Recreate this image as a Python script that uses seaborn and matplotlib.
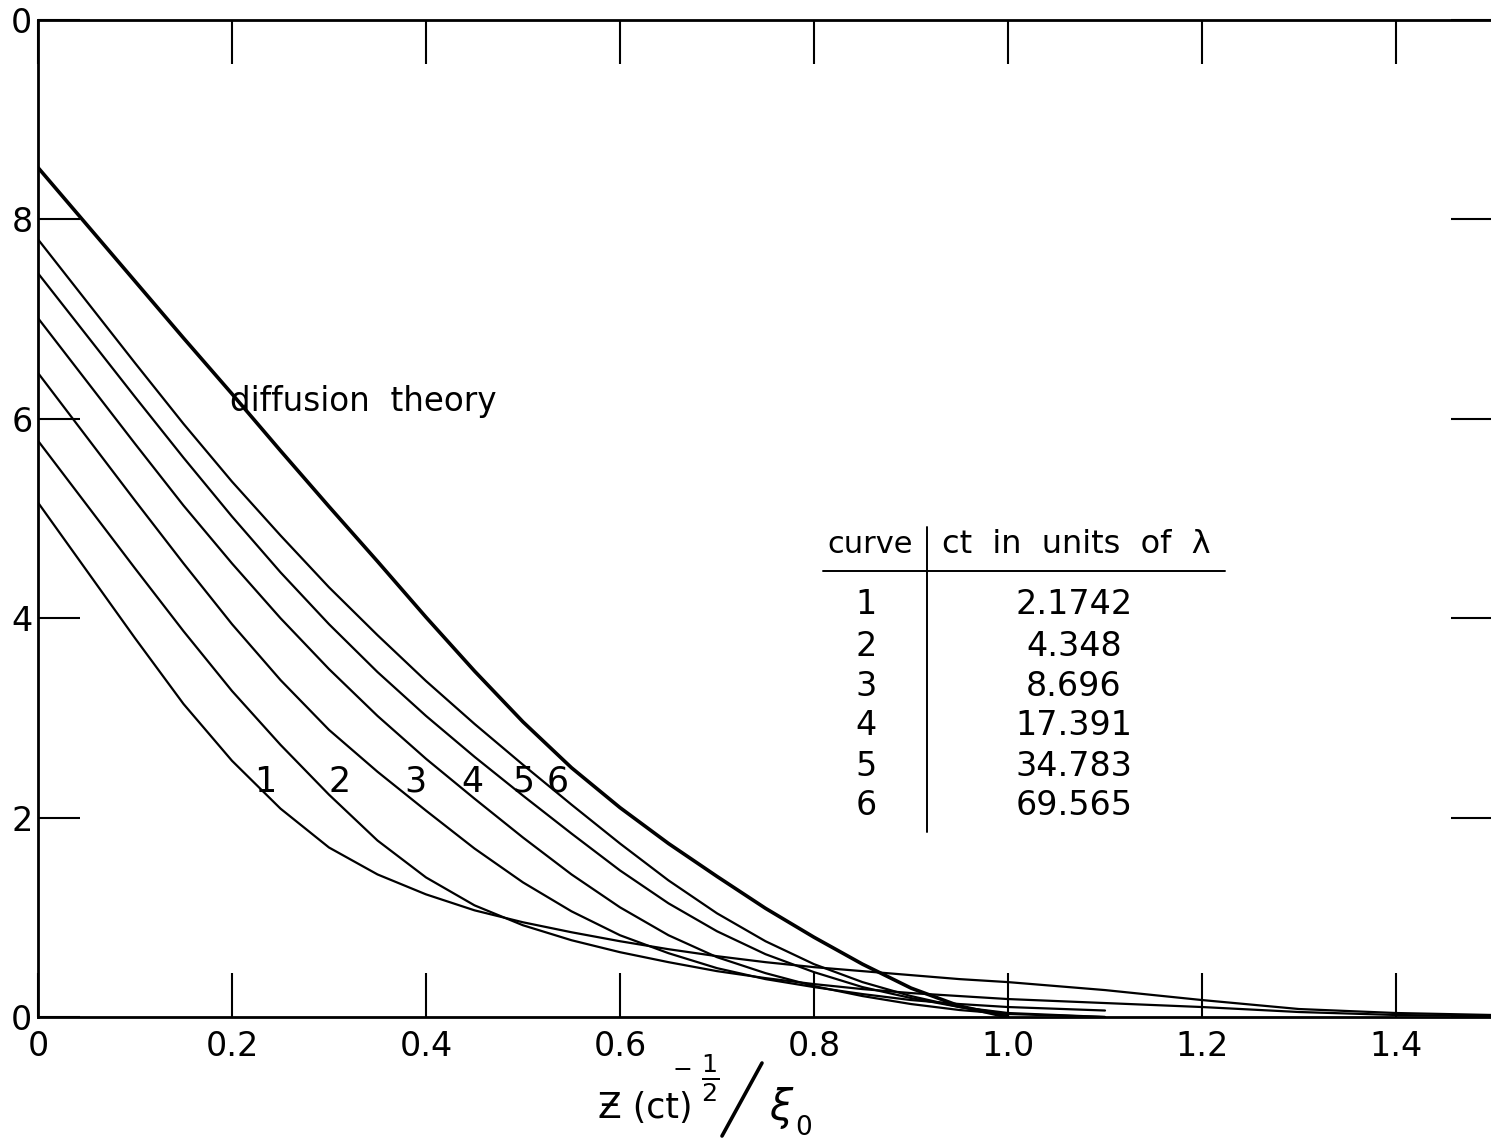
import numpy as np
import pandas as pd
import matplotlib
matplotlib.use("Agg")
import matplotlib.pyplot as plt
from matplotlib.lines import Line2D
import seaborn as sns

# Abscissa: z (ct)^(-1/2) / xi_0
x_grid = [0.00, 0.05, 0.10, 0.15, 0.20, 0.25, 0.30, 0.35, 0.40, 0.45,
          0.50, 0.55, 0.60, 0.65, 0.70, 0.75, 0.80, 0.85, 0.90, 0.95,
          1.00, 1.10, 1.20, 1.30, 1.40, 1.50]

diffusion = [8.52, 7.95, 7.38, 6.81, 6.25, 5.68, 5.12, 4.57, 4.01, 3.47,
             2.96, 2.50, 2.10, 1.74, 1.41, 1.09, 0.80, 0.53, 0.29, 0.11,
             0.00]

curve1 = [5.16, 4.48, 3.80, 3.14, 2.57, 2.09, 1.70, 1.43, 1.23, 1.07,
          0.95, 0.85, 0.76, 0.68, 0.61, 0.55, 0.50, 0.46, 0.42, 0.38,
          0.35, 0.27, 0.17, 0.08, 0.04, 0.02]
curve2 = [5.78, 5.14, 4.50, 3.87, 3.27, 2.73, 2.23, 1.77, 1.40, 1.12,
          0.92, 0.77, 0.65, 0.55, 0.46, 0.39, 0.33, 0.28, 0.24, 0.21,
          0.18, 0.14, 0.10, 0.05, 0.02, 0.01]
curve3 = [6.46, 5.82, 5.18, 4.55, 3.94, 3.38, 2.88, 2.46, 2.07, 1.69,
          1.35, 1.06, 0.82, 0.64, 0.49, 0.38, 0.30, 0.23, 0.17, 0.13,
          0.10, 0.065]
curve4 = [7.01, 6.38, 5.75, 5.13, 4.55, 4.00, 3.49, 3.02, 2.59, 2.19,
          1.80, 1.43, 1.10, 0.82, 0.60, 0.44, 0.31, 0.21, 0.13, 0.07,
          0.03, 0.00]
curve5 = [7.46, 6.84, 6.22, 5.61, 5.02, 4.46, 3.94, 3.46, 3.02, 2.61,
          2.22, 1.84, 1.47, 1.14, 0.86, 0.63, 0.45, 0.30, 0.19, 0.10,
          0.04, 0.00]
curve6 = [7.80, 7.18, 6.56, 5.95, 5.37, 4.83, 4.31, 3.83, 3.37, 2.94,
          2.53, 2.13, 1.74, 1.37, 1.04, 0.76, 0.53, 0.35, 0.21, 0.10,
          0.03]

curve_ids = ["1", "2", "3", "4", "5", "6"]
ct_values = ["2.1742", "4.348", "8.696", "17.391", "34.783", "69.565"]

x_ticks = [0.0, 0.2, 0.4, 0.6, 0.8, 1.0, 1.2, 1.4]
x_ticklabels = ["0", "0.2", "0.4", "0.6", "0.8", "1.0", "1.2", "1.4"]
y_ticks = [0, 2, 4, 6, 8, 10]
y_ticklabels = ["0", "2", "4", "6", "8", "0"]


def frame(name, values):
    n = len(values)
    return pd.DataFrame({"x": x_grid[:n], "y": values, "series": name})


sets = [curve1, curve2, curve3, curve4, curve5, curve6]
df = pd.concat([frame("diffusion", diffusion)] +
               [frame(c, v) for c, v in zip(curve_ids, sets)],
               ignore_index=True)

sns.set_style("ticks")
plt.rcParams["font.family"] = ["DejaVu Sans"]
plt.rcParams["text.color"] = "black"
plt.rcParams["xtick.color"] = "black"
plt.rcParams["ytick.color"] = "black"

W, H = 1491, 1142
fig = plt.figure(figsize=(W / 100, H / 100), dpi=100)
ax = fig.add_axes([38 / W, 125 / H, 1455 / W, 997 / H])

for cid in curve_ids:
    sns.lineplot(data=df[df["series"] == cid], x="x", y="y", ax=ax,
                 color="black", lw=1.6, sort=False, estimator=None)
sns.lineplot(data=df[df["series"] == "diffusion"], x="x", y="y", ax=ax,
             color="black", lw=2.6, sort=False, estimator=None)

ax.set_xlim(0, 1.5)
ax.set_ylim(0, 10)
ax.set_xlabel("")
ax.set_ylabel("")

for side in ["left", "bottom", "top"]:
    ax.spines[side].set_linewidth(2.0)
    ax.spines[side].set_color("black")
ax.spines["right"].set_visible(False)

ax.set_xticks(x_ticks)
ax.set_xticklabels(x_ticklabels)
ax.set_yticks(y_ticks)
ax.set_yticklabels(y_ticklabels)
ax.tick_params(axis="x", direction="in", length=32, width=1.5,
               top=True, bottom=True, labelsize=24, pad=9)
ax.tick_params(axis="y", direction="in", length=30, width=1.5,
               left=True, right=True, labelsize=24, pad=4)

# curve numbers along the family of curves
label_x = [0.234, 0.311, 0.389, 0.448, 0.500, 0.536]
for cid, lx in zip(curve_ids, label_x):
    ax.text(lx, 2.36, cid, fontsize=25, ha="center", va="center")

ax.text(0.198, 6.17, "diffusion  theory", fontsize=23.5, ha="left",
        va="center")

# table of curve parameters
ax.text(0.814, 4.74, "curve", fontsize=22, ha="left", va="center")
ax.text(0.932, 4.74, "ct  in  units  of  λ", fontsize=23,
        ha="left", va="center")
ax.plot([0.809, 1.224], [4.47, 4.47], color="black", lw=1.4)
ax.plot([0.916, 0.916], [4.91, 1.86], color="black", lw=1.4)
row_y = [4.14, 3.72, 3.31, 2.92, 2.51, 2.12]
for cid, val, ry in zip(curve_ids, ct_values, row_y):
    ax.text(0.854, ry, cid, fontsize=24, ha="center", va="center")
    ax.text(1.068, ry, val, fontsize=24, ha="center", va="center")


# axis title: z (ct)^(-1/2) / xi_0, assembled in figure pixels
def px(x, y):
    return x / W, 1 - y / H


fig.text(*px(598, 1108), "Ƶ (ct)", fontsize=25, ha="left", va="center")
fig.text(*px(682, 1070), "−", fontsize=17, ha="center", va="center")
fig.text(*px(710, 1078), r"$\frac{1}{2}$", fontsize=26, ha="center",
         va="center")
(x0, y0), (x1, y1) = px(722, 1136), px(762, 1063)
fig.add_artist(Line2D([x0, x1], [y0, y1], color="black", lw=2.6,
                      transform=fig.transFigure))
fig.text(*px(782, 1108), r"$\xi$", fontsize=30, ha="center", va="center")
fig.text(*px(804, 1128), "0", fontsize=19, ha="center", va="center")

fig.savefig("out.png", dpi=100, facecolor="white")
